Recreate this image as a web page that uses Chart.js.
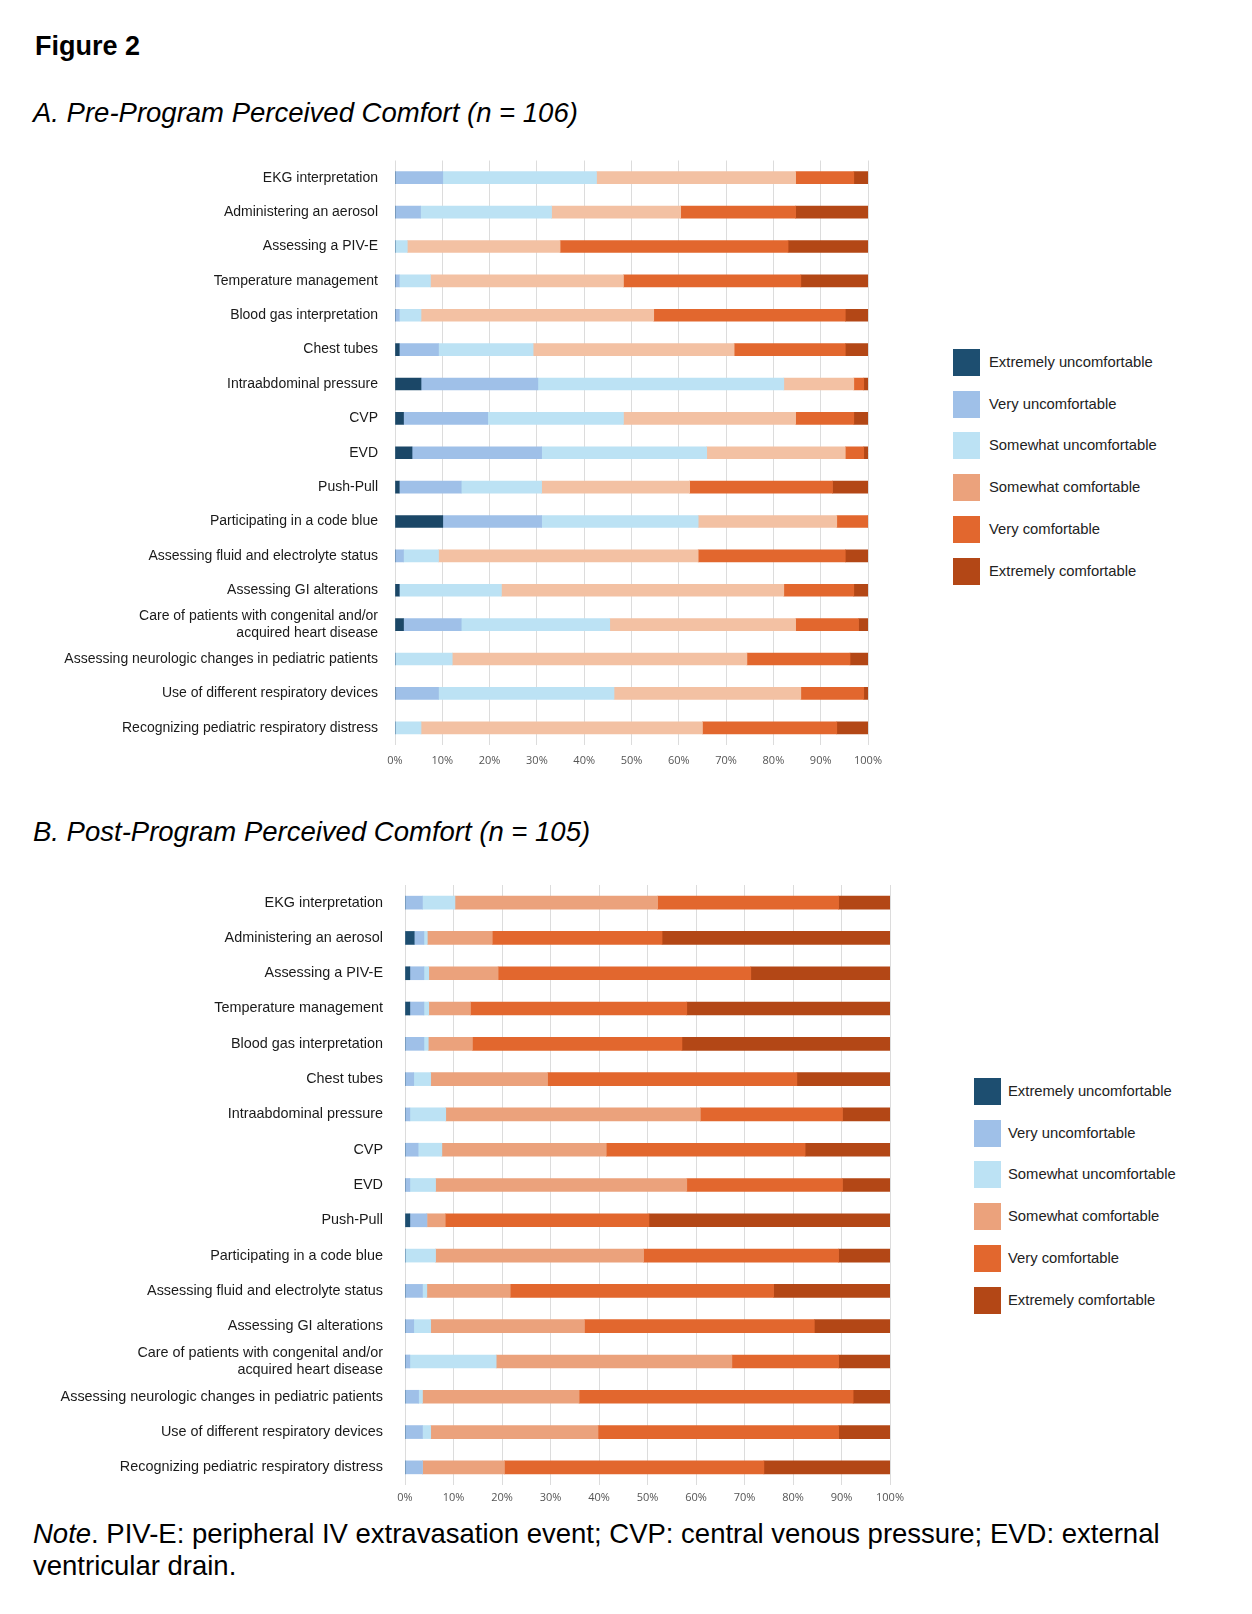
<!DOCTYPE html>
<html>
<head>
<meta charset="utf-8">
<script src="https://cdn.jsdelivr.net/npm/chart.js@4.4.1/dist/chart.umd.min.js"></script>
<style>
  body { margin: 0; background: #fff; font-family: 'Liberation Sans', Arial, sans-serif; color: #000; }
  #page { position: relative; width: 1252px; height: 1614px; overflow: hidden; }
  .txt { position: absolute; white-space: nowrap; }
  .legend { position: absolute; font-size: 14.8px; color: #222; }
  .legend .item { position: absolute; left: 0; height: 27px; line-height: 27px; white-space: nowrap; }
  .legend .sw { position: absolute; left: 0; top: 0; width: 27px; height: 27px; }
  .legend .lb { position: absolute; top: 0; }
  canvas { position: absolute; }
</style>
</head>
<body>
<div id="page">
  <div class="txt" style="left:35px; top:32px; font-size:27px; line-height:28px; font-weight:bold;">Figure 2</div>
  <div class="txt" style="left:33px; top:99px; font-size:27.5px; line-height:28px; font-style:italic;">A. Pre-Program Perceived Comfort (n = 106)</div>
  <div class="txt" style="left:33px; top:818px; font-size:27.5px; line-height:28px; font-style:italic;">B. Post-Program Perceived Comfort (n = 105)</div>
  <div class="txt" style="left:33px; top:1518px; font-size:27.5px; line-height:32px;"><i>Note</i>. PIV-E: peripheral IV extravasation event; CVP: central venous pressure; EVD: external<br>ventricular drain.</div>

  <div style="position:absolute; left:0; top:150px; width:900px; height:625px;"><canvas id="chartPre"></canvas></div>
  <div style="position:absolute; left:0; top:875px; width:920px; height:640px;"><canvas id="chartPost"></canvas></div>

  <div class="legend" id="legendPre" style="left:953px; top:349px;"></div>
  <div class="legend" id="legendPost" style="left:974px; top:1078px;"></div>
</div>

<script>
const categorias = [
  'EKG interpretation',
  'Administering an aerosol',
  'Assessing a PIV-E',
  'Temperature management',
  'Blood gas interpretation',
  'Chest tubes',
  'Intraabdominal pressure',
  'CVP',
  'EVD',
  'Push-Pull',
  'Participating in a code blue',
  'Assessing fluid and electrolyte status',
  'Assessing GI alterations',
  ['Care of patients with congenital and/or', 'acquired heart disease'],
  'Assessing neurologic changes in pediatric patients',
  'Use of different respiratory devices',
  'Recognizing pediatric respiratory distress'
];

const niveles = [
  'Extremely uncomfortable',
  'Very uncomfortable',
  'Somewhat uncomfortable',
  'Somewhat comfortable',
  'Very comfortable',
  'Extremely comfortable'
];

const colores = ['#1d4e70', '#9fc0e8', '#bce2f4', '#eba27c', '#e2672e', '#b34716'];
const coloresPre = ['#1b4767', '#9fc0e8', '#bce2f4', '#f3c1a3', '#e2672e', '#b34716'];

const tickPct = [0, 10, 20, 30, 40, 50, 60, 70, 80, 90, 100];

// Pre-program (n = 106), % por nivel
const preExtUncomf  = [0, 0, 0, 0, 0, 0.9, 5.5, 1.8, 3.6, 0.9, 10.1, 0, 0.9, 1.8, 0, 0, 0];
const preVeryUncomf = [10.1, 5.4, 0, 0.9, 0.9, 8.3, 24.7, 17.8, 27.4, 13.1, 20.9, 1.8, 0, 12.2, 0, 9.2, 0];
const preSomeUncomf = [32.5, 27.7, 2.6, 6.6, 4.6, 20.0, 52.0, 28.7, 34.9, 17.0, 33.1, 7.4, 21.6, 31.4, 12.1, 37.1, 5.5];
const preSomeComf   = [42.1, 27.3, 32.3, 40.8, 49.2, 42.5, 14.8, 36.4, 29.3, 31.3, 29.3, 54.9, 59.7, 39.3, 62.3, 39.5, 59.5];
const preVeryComf   = [12.3, 24.3, 48.2, 37.5, 40.5, 23.5, 2.1, 12.3, 3.9, 30.2, 6.6, 31.1, 14.8, 13.3, 21.8, 13.3, 28.4];
const preExtComf    = [3.0, 15.3, 16.9, 14.2, 4.8, 4.8, 0.9, 3.0, 0.9, 7.5, 0, 4.8, 3.0, 2.0, 3.8, 0.9, 6.6];

// Post-program (n = 105)
const postExtUncomf  = [0, 1.9, 1.0, 1.0, 0, 0, 0, 0, 0, 1.0, 0, 0, 0, 0, 0, 0, 0];
const postVeryUncomf = [3.6, 2.0, 2.9, 2.9, 3.9, 1.8, 1.0, 2.7, 1.0, 3.5, 0, 3.6, 1.8, 1.0, 2.8, 3.6, 3.6];
const postSomeUncomf = [6.7, 0.7, 1.0, 1.0, 0.9, 3.5, 7.4, 4.9, 5.3, 0, 6.3, 0.9, 3.5, 17.8, 0.8, 1.7, 0];
const postSomeComf   = [41.8, 13.4, 14.3, 8.6, 9.1, 24.1, 52.5, 33.9, 51.8, 3.8, 42.9, 17.2, 31.7, 48.6, 32.3, 34.5, 16.9];
const postVeryComf   = [37.3, 35.0, 52.1, 44.6, 43.2, 51.4, 29.3, 41.0, 32.1, 42.0, 40.2, 54.3, 47.4, 22.0, 56.5, 49.6, 53.5];
const postExtComf    = [10.6, 47.0, 28.7, 41.9, 42.9, 19.2, 9.8, 17.5, 9.8, 49.7, 10.6, 24.0, 15.6, 10.6, 7.6, 10.6, 26.0];

const datosPre = [preExtUncomf, preVeryUncomf, preSomeUncomf, preSomeComf, preVeryComf, preExtComf];
const datosPost = [postExtUncomf, postVeryUncomf, postSomeUncomf, postSomeComf, postVeryComf, postExtComf];

function crearGrafico(id, series, paleta, cfg) {
  return new Chart(document.getElementById(id), {
    type: 'bar',
    data: {
      labels: categorias,
      datasets: series.map((s, i) => ({
        label: niveles[i],
        data: s,
        backgroundColor: paleta[i],
        borderWidth: 0,
        barThickness: cfg.barra
      }))
    },
    options: {
      indexAxis: 'y',
      responsive: true,
      maintainAspectRatio: false,
      animation: false,
      layout: { padding: { top: cfg.top, right: cfg.right, bottom: 5, left: 0 } },
      plugins: { legend: { display: false }, tooltip: { enabled: false } },
      scales: {
        x: {
          stacked: true,
          min: 0,
          max: 100,
          afterBuildTicks: axis => { axis.ticks = tickPct.map(v => ({ value: v })); },
          afterFit: scale => { scale.height = 25; },
          grid: { color: '#dcdcdc', drawTicks: false },
          border: { display: false },
          ticks: {
            padding: cfg.padX,
            color: '#555',
            font: { size: 11, family: "'Open Sans', 'Liberation Sans', sans-serif" },
            callback: v => v + '%'
          }
        },
        y: {
          stacked: true,
          afterFit: scale => {
            scale.width = cfg.izq;
            // sin margen extra arriba/abajo por las etiquetas
            scale.paddingTop = 0;
            scale.paddingBottom = 0;
          },
          grid: { display: false, drawTicks: false },
          border: { display: false },
          ticks: {
            padding: cfg.pad,
            color: '#1a1a1a',
            autoSkip: false,
            font: { size: cfg.fuente, family: "'Liberation Sans', Arial, sans-serif", lineHeight: 1.15 }
          }
        }
      }
    }
  });
}

crearGrafico('chartPre', datosPre, coloresPre, { barra: 12, top: 10.5, right: 32, izq: 395, pad: 17, padX: 9, fuente: 14 });
crearGrafico('chartPost', datosPost, colores, { barra: 13, top: 10, right: 30, izq: 405, pad: 22, padX: 6, fuente: 14.4 });

function crearLeyenda(id) {
  const cont = document.getElementById(id);
  niveles.forEach((n, i) => {
    const it = document.createElement('div');
    it.className = 'item';
    it.style.top = (i * 41.7) + 'px';
    it.innerHTML = '<span class="sw" style="background:' + colores[i] + '"></span><span class="lb" style="left:' + (id === 'legendPre' ? 36 : 34) + 'px">' + n + '</span>';
    cont.appendChild(it);
  });
}
crearLeyenda('legendPre');
crearLeyenda('legendPost');
</script>
</body>
</html>
